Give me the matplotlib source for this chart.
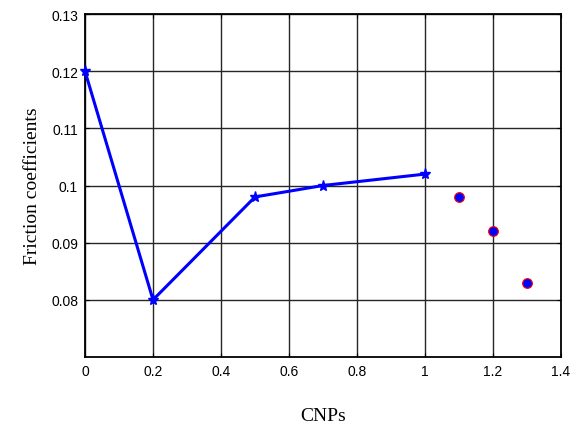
import matplotlib as mpl
mpl.use('Agg')
import matplotlib.pyplot as plt

# friction coefficient vs CNP content
cnp_line = [0, 0.2, 0.5, 0.7, 1.0]
friction_line = [0.120, 0.080, 0.098, 0.100, 0.102]
cnp_extra = [1.1, 1.2, 1.3]
friction_extra = [0.098, 0.092, 0.083]

xticks = [0, 0.2, 0.4, 0.6, 0.8, 1.0, 1.2, 1.4]
xtick_labels = ['0', '0.2', '0.4', '0.6', '0.8', '1', '1.2', '1.4']
yticks = [0.08, 0.09, 0.10, 0.11, 0.12, 0.13]
ytick_labels = ['0.08', '0.09', '0.1', '0.11', '0.12', '0.13']

fig = plt.figure(figsize=(5.79, 4.35), dpi=100)
ax = fig.add_axes([0.1468, 0.177, 0.8222, 0.7885])

ax.plot(cnp_line, friction_line, color='blue', lw=2.2, marker='*', ms=8,
        markerfacecolor='blue', markeredgecolor='blue', clip_on=False, zorder=3)
ax.plot(cnp_extra, friction_extra, ls='none', marker='o', ms=7,
        markerfacecolor='blue', markeredgecolor='red', markeredgewidth=0.8, zorder=3)

ax.set_xlim(0, 1.4)
ax.set_ylim(0.07, 0.13)
ax.set_xticks(xticks)
ax.set_xticklabels(xtick_labels, fontfamily='Liberation Sans', fontsize=10)
ax.set_yticks(yticks)
ax.set_yticklabels(ytick_labels, fontfamily='Liberation Sans', fontsize=10)
ax.tick_params(direction='in', top=True, right=True, length=3, width=0.8, pad=5)
ax.grid(True, color='0.15', lw=1.0, ls='-')
for s in ax.spines.values():
    s.set_linewidth(1.3)

ax.set_xlabel('CNPs', fontfamily='Liberation Serif', fontsize=14, labelpad=21)
ax.set_ylabel('Friction coefficients', fontfamily='Liberation Serif', fontsize=14, labelpad=7)

plt.savefig('out.png', dpi=100)
